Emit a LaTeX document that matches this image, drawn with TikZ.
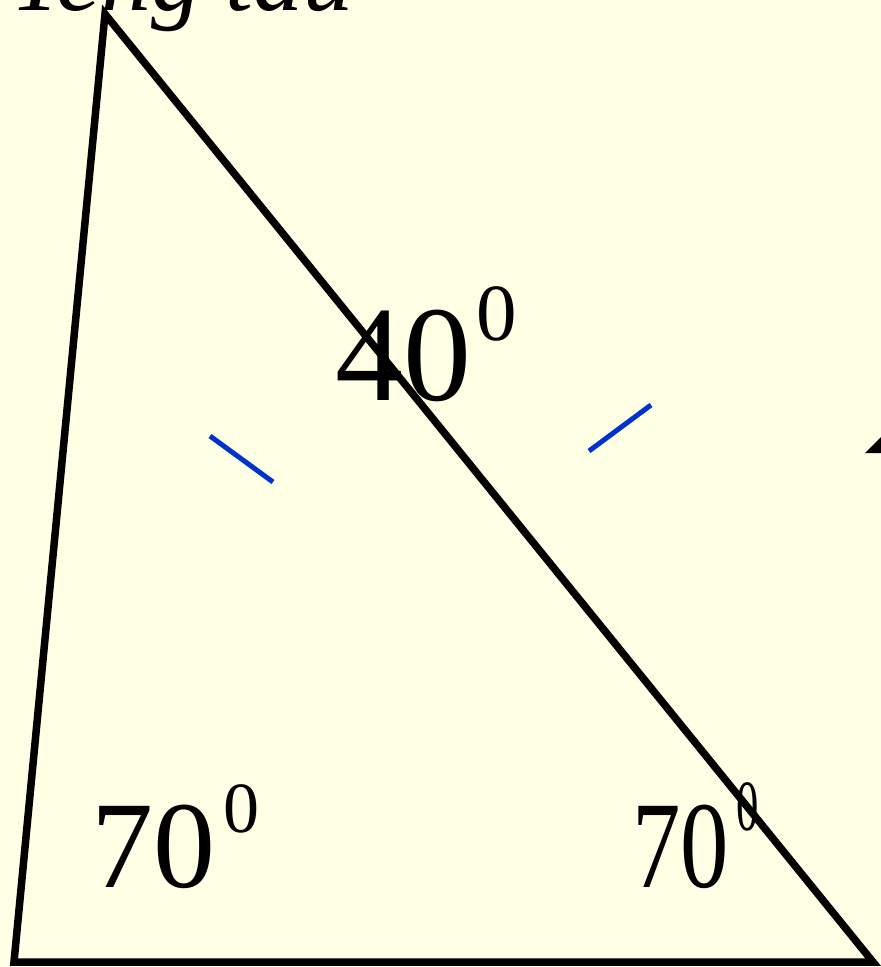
\documentclass[tikz,border=0pt]{standalone}
\usepackage{fontspec}
\setmainfont{Liberation Serif}
\definecolor{bgyellow}{RGB}{255,255,230}
\definecolor{tickblue}{RGB}{0,51,204}
\begin{document}
\begin{tikzpicture}[x=1pt,y=-1pt,
  edge/.style={line width=7.5pt,line join=miter,black},
  tickmark/.style={line width=5pt,tickblue},
  bignum/.style={anchor=base west,inner sep=0pt,font=\fontsize{#1}{#1}\selectfont},
]
\fill[bgyellow] (0,0) rectangle (881,967);
\useasboundingbox (0,0) rectangle (881,967);
\coordinate (A) at (105,14);
\coordinate (B) at (14,962);
\coordinate (C) at (873,962);
\draw[edge] (A) -- (B) -- (C) -- cycle;
% equal-side tick marks
\coordinate (t1a) at (210,436);
\coordinate (t1b) at (273,482);
\coordinate (t2a) at (589,451);
\coordinate (t2b) at (651,405);
\draw[tickmark] (t1a) -- (t1b);
\draw[tickmark] (t2a) -- (t2b);
% angle labels
\node[bignum=136] (n40) at (335,400) {40};
\node[bignum=81] (s40) at (476,340) {0};
\node[bignum=124] (n70l) at (91,887) {70};
\node[bignum=72] (s70l) at (223,832) {0};
\node[bignum=124,xscale=0.78] (n70r) at (632,887) {70};
\node[bignum=72,xscale=0.62] (s70r) at (736,830) {0};
% cut-off title at top
\node[anchor=base west,inner sep=0pt,font=\fontsize{100}{100}\selectfont\itshape] (title) at (10,10) {Teng tau};
% cut-off glyph at right edge
\fill (865,453) -- (881,437) -- (881,453) -- cycle;
\end{tikzpicture}
\end{document}
